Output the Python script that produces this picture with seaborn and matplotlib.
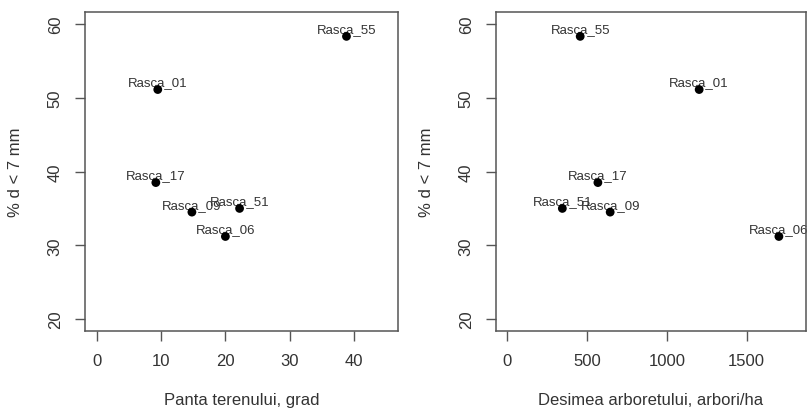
import matplotlib
matplotlib.use("Agg")
import matplotlib.pyplot as plt
import seaborn as sns
import pandas as pd

names = ["Rasca_55", "Rasca_01", "Rasca_17", "Rasca_09", "Rasca_51", "Rasca_06"]
panta = [38.8, 9.5, 9.2, 14.8, 22.2, 20.0]
desimea = [456, 1202, 567, 644, 344, 1702]
pct_d7 = [58.3, 51.1, 38.5, 34.5, 35.0, 31.2]

df = pd.DataFrame({"name": names, "panta": panta, "desimea": desimea, "pct": pct_d7})

sns.set_style("white")
plt.rcParams["font.family"] = ["Liberation Sans", "DejaVu Sans"]

W, H = 807, 410
fig = plt.figure(figsize=(W / 100, H / 100), dpi=100)

ink = "#333333"
box = "#555555"

def make_ax(left, right, top, bottom):
    return fig.add_axes([left / W, (H - bottom) / H, (right - left) / W, (bottom - top) / H])

ax1 = make_ax(85, 398, 13, 332)
ax2 = make_ax(496, 806, 13, 332)

panels = [
    (ax1, "panta", (0, 45), [0, 10, 20, 30, 40], "Panta terenului, grad"),
    (ax2, "desimea", (0, 1800), [0, 500, 1000, 1500], "Desimea arboretului, arbori/ha"),
]

for ax, col, (x0, x1), xt, xl in panels:
    sns.scatterplot(data=df, x=col, y="pct", ax=ax, color="black", s=40,
                    edgecolor="none", linewidth=0, zorder=3)
    for _, r in df.iterrows():
        ax.annotate(r["name"], (r[col], r["pct"]), xytext=(0, 3), textcoords="offset points",
                    ha="center", va="baseline", fontsize=9.5, color=ink,
                    annotation_clip=False, zorder=2)
    dx = (x1 - x0) * 0.04
    ax.set_xlim(x0 - dx, x1 + dx)
    ax.set_ylim(20 - 1.6, 60 + 1.6)
    ax.set_xticks(xt)
    ax.set_yticks([20, 30, 40, 50, 60])
    ax.set_xticklabels([str(v) for v in xt])
    ax.set_yticklabels(["20", "30", "40", "50", "60"], rotation=90, va="center")
    ax.tick_params(axis="both", direction="out", length=7, width=1, color=box,
                   labelsize=12, labelcolor=ink, bottom=True, left=True)
    ax.tick_params(axis="x", pad=9)
    ax.tick_params(axis="y", pad=9)
    for s in ax.spines.values():
        s.set_color(box)
        s.set_linewidth(1.1)
        s.set_visible(True)
    ax.set_xlabel(xl, fontsize=12, color=ink, labelpad=17)
    ax.set_ylabel("% d < 7 mm", fontsize=12, color=ink, labelpad=18)
    ax.grid(False)

fig.savefig("out.png", dpi=100)
